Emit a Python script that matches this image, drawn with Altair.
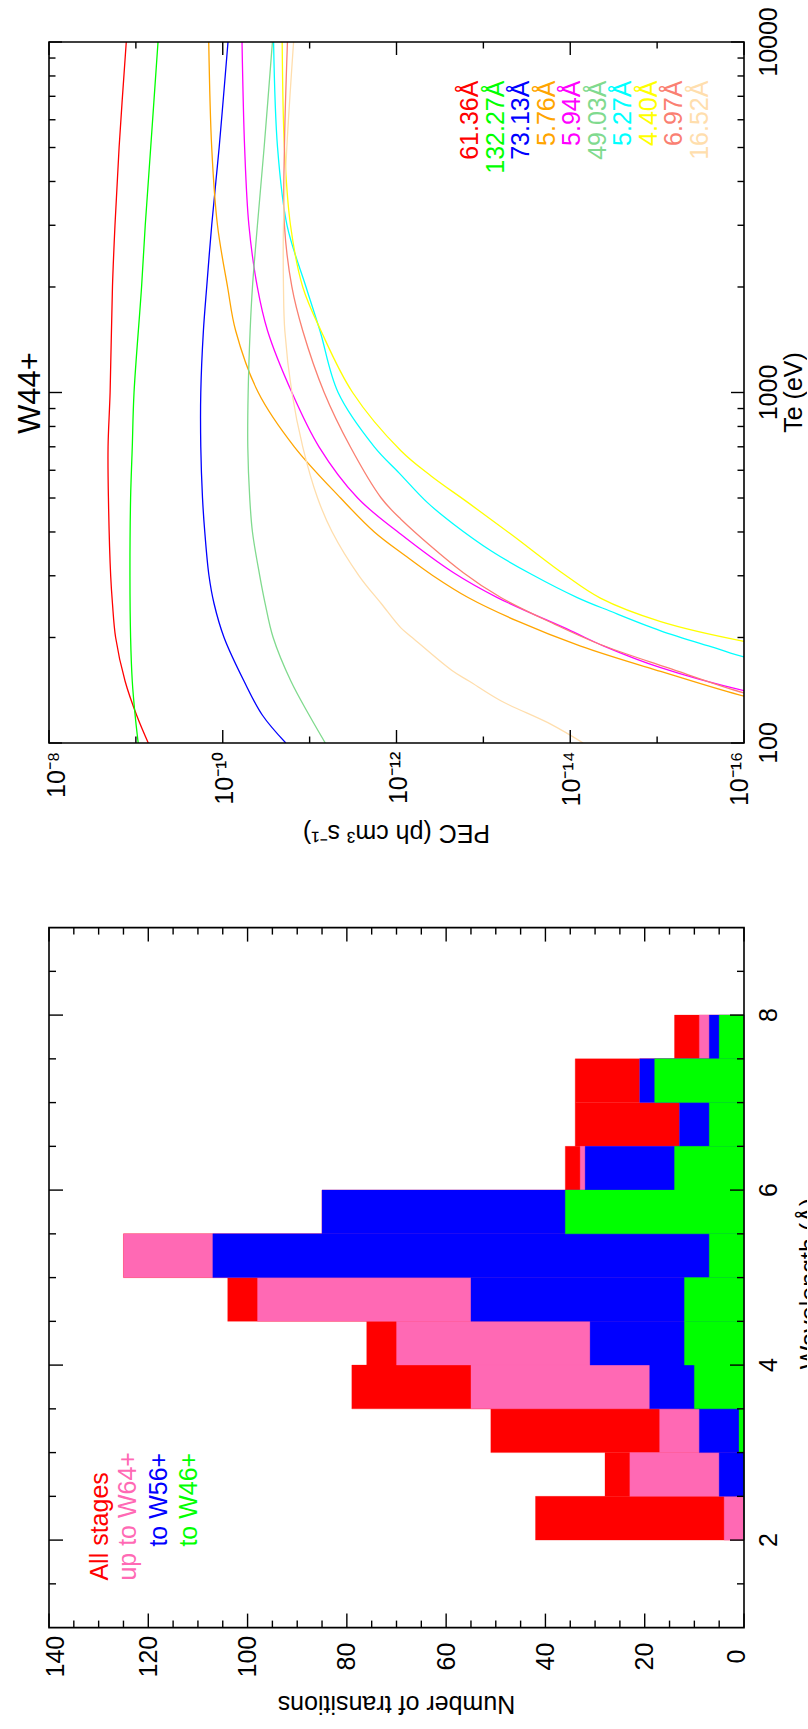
import altair as alt
import pandas as pd

FONT = "Liberation Sans"

# ---------------- upper panel: PEC vs Te for W44+ ----------------
line_labels = ["61.36Å", "132.27Å", "73.13Å", "5.76Å", "5.94Å",
               "49.03Å", "5.27Å", "4.40Å", "6.97Å", "16.52Å"]
line_colors = ["#FF0000", "#00FF00", "#0000FF", "#FFA500", "#FF00FF",
               "#80DA8E", "#00FFFF", "#FFFF00", "#FA8072", "#FFDEAD"]

te_6136 = [100, 120, 150, 200, 250, 300, 500, 700, 1000, 2000, 3000, 5000, 10000]
pec_6136 = [7.2e-10, 9.8e-10, 1.33e-9, 1.71e-9, 1.86e-9, 1.95e-9, 2.07e-9, 2.09e-9,
            1.98e-9, 1.86e-9, 1.74e-9, 1.56e-9, 1.29e-9]

te_13227 = [100, 120, 150, 200, 300, 500, 700, 1000, 2000, 3000, 5000, 10000]
pec_13227 = [9.4e-10, 1.02e-9, 1.10e-9, 1.15e-9, 1.17e-9, 1.15e-9, 1.10e-9, 1.05e-9,
             8.6e-10, 7.8e-10, 6.75e-10, 5.56e-10]

te_7313 = [100, 120, 150, 200, 250, 300, 400, 500, 700, 1000, 1500, 2000, 3000, 4000,
           5000, 7000, 10000]
pec_7313 = [1.88e-11, 3.49e-11, 5.68e-11, 9.66e-11, 1.26e-10, 1.44e-10, 1.61e-10,
            1.71e-10, 1.79e-10, 1.79e-10, 1.67e-10, 1.53e-10, 1.34e-10, 1.20e-10,
            1.10e-10, 9.8e-11, 8.7e-11]

te_576 = [130, 136, 160, 189, 223, 260, 300, 342, 400, 500, 700, 1000, 1500, 2000,
          3000, 5000, 10000]
pec_576 = [4.0e-17, 1.0e-16, 9.1e-16, 7.6e-15, 4.1e-14, 1.5e-13, 3.8e-13, 7.9e-13,
           1.8e-12, 4.4e-12, 1.5e-11, 3.9e-11, 7.1e-11, 8.8e-11, 1.15e-10, 1.34e-10,
           1.45e-10]

te_594 = [135, 141, 164, 189, 209, 260, 306, 394, 500, 700, 1000, 1500, 2000, 3000,
          5000, 10000]
pec_594 = [4.0e-17, 1.0e-16, 9.1e-16, 4.1e-15, 9.8e-15, 6.9e-14, 2.2e-13, 8.9e-13,
           2.8e-12, 7.8e-12, 1.6e-11, 3.05e-11, 4.0e-11, 5.0e-11, 5.6e-11, 6.0e-11]

te_4903 = [100, 120, 150, 200, 250, 300, 400, 500, 700, 1000, 1500, 2000, 3000, 5000,
           10000]
pec_4903 = [6.6e-12, 1.01e-11, 1.64e-11, 2.63e-11, 3.25e-11, 3.75e-11, 4.55e-11,
            4.89e-11, 5.15e-11, 5.1e-11, 4.84e-11, 4.55e-11, 3.99e-11, 3.34e-11,
            2.68e-11]

te_527 = [170, 176, 187, 209, 238, 260, 303, 353, 421, 485, 589, 700, 1000, 1500,
          2000, 3000, 5000, 10000]
pec_527 = [4.0e-17, 1.0e-16, 2.2e-16, 9.1e-16, 3.5e-15, 8.3e-15, 2.8e-14, 8.1e-14,
           2.2e-13, 4.4e-13, 9.3e-13, 1.8e-12, 4.7e-12, 7.6e-12, 1.1e-11, 1.82e-11,
           2.34e-11, 2.6e-11]

te_440 = [188, 195, 222, 259, 304, 394, 485, 578, 682, 1000, 1500, 2000, 3000, 5000,
          10000]
pec_440 = [4.0e-17, 1.0e-16, 9.1e-16, 4.5e-15, 1.2e-14, 4.8e-14, 1.5e-13, 4.0e-13,
           8.9e-13, 3.2e-12, 7.4e-12, 1.2e-11, 1.66e-11, 1.95e-11, 2.07e-11]

te_697 = [133, 139, 164, 191, 218, 260, 306, 435, 500, 700, 1000, 1500, 2000, 3000,
          5000, 10000]
pec_697 = [4.0e-17, 1.0e-16, 7.6e-16, 4.5e-15, 1.5e-14, 6.3e-14, 1.7e-13, 8.9e-13,
           1.5e-12, 3.4e-12, 6.8e-12, 1.2e-11, 1.6e-11, 1.95e-11, 1.95e-11, 1.8e-11]

te_1652 = [100, 113, 132, 150, 161, 200, 213, 250, 300, 400, 500, 700, 1000, 1500,
           2000, 3000, 5000, 10000]
pec_1652 = [7.1e-15, 1.66e-14, 6.3e-14, 1.45e-13, 2.3e-13, 6.6e-13, 8.9e-13, 1.5e-12,
            2.7e-12, 5.5e-12, 8.1e-12, 1.2e-11, 1.6e-11, 1.93e-11, 2.0e-11, 2.0e-11,
            1.83e-11, 1.53e-11]

series_te = [te_6136, te_13227, te_7313, te_576, te_594, te_4903, te_527, te_440,
             te_697, te_1652]
series_pec = [pec_6136, pec_13227, pec_7313, pec_576, pec_594, pec_4903, pec_527,
              pec_440, pec_697, pec_1652]

pec_major = [1e-8, 1e-10, 1e-12, 1e-14, 1e-16]
pec_major_text = ["10⁻⁸", "10⁻¹⁰", "10⁻¹²", "10⁻¹⁴", "10⁻¹⁶"]
pec_minor = [1e-9, 1e-11, 1e-13, 1e-15]
te_major = [100, 1000, 10000]
te_major_text = ["100", "1000", "10000"]
te_minor = [200, 300, 400, 500, 600, 700, 800, 900,
            2000, 3000, 4000, 5000, 6000, 7000, 8000, 9000]

# ---------------- lower panel: histogram of transitions ----------------
bin_edges = [2.0, 2.5, 3.0, 3.5, 4.0, 4.5, 5.0, 5.5, 6.0, 6.5, 7.0, 7.5, 8.0]
n_all = [42, 28, 51, 79, 76, 104, 125, 85, 36, 34, 34, 14]
n_w64 = [4, 23, 17, 55, 70, 98, 125, 85, 33, 13, 21, 9]
n_w56 = [0, 5, 9, 19, 31, 55, 107, 85, 32, 13, 21, 7]
n_w46 = [0, 0, 1, 10, 12, 12, 7, 36, 14, 7, 18, 5]
hist_labels = ["All stages", "up to W64+", "to W56+", "to W46+"]
hist_colors = ["#FF0000", "#FF69B4", "#0000FF", "#00FF00"]

cnt_major = [0, 20, 40, 60, 80, 100, 120, 140]
cnt_minor = [v for v in range(5, 140, 5) if v % 20 != 0]
wl_major = [2, 4, 6, 8]
wl_minor = [1.5, 2.5, 3.0, 3.5, 4.5, 5.0, 5.5, 6.5, 7.0, 7.5, 8.5]

# ---------------- layout constants ----------------
W = 695
H1 = 701
H2 = 700
one = pd.DataFrame({"a": [0]})

pec_scale = alt.Scale(type="log", domain=[1e-16, 1e-8], reverse=True, nice=False)
te_scale = alt.Scale(type="log", domain=[100, 10000], nice=False)
cnt_scale = alt.Scale(domain=[0, 140], reverse=True, nice=False, zero=False)
wl_scale = alt.Scale(domain=[1, 9], nice=False, zero=False)


def txt(s, x, y, angle, align="center", size=25, color="black"):
    return alt.Chart(one).mark_text(
        text=s, angle=angle, align=align, baseline="alphabetic", fontSize=size,
        font=FONT, color=color
    ).encode(x=alt.value(x), y=alt.value(y))


def xticks(vals, scale, length, H):
    d = pd.DataFrame({"v": vals})
    xe = alt.X("v:Q", scale=scale, axis=None)
    b = alt.Chart(d).mark_rule(color="black", strokeWidth=1.4).encode(
        x=xe, y=alt.value(H), y2=alt.value(H - length))
    t = alt.Chart(d).mark_rule(color="black", strokeWidth=1.4).encode(
        x=xe, y=alt.value(0), y2=alt.value(length))
    return [b, t]


def yticks(vals, scale, length, Wd):
    d = pd.DataFrame({"v": vals})
    ye = alt.Y("v:Q", scale=scale, axis=None)
    l = alt.Chart(d).mark_rule(color="black", strokeWidth=1.4).encode(
        y=ye, x=alt.value(0), x2=alt.value(length))
    r = alt.Chart(d).mark_rule(color="black", strokeWidth=1.4).encode(
        y=ye, x=alt.value(Wd), x2=alt.value(Wd - length))
    return [l, r]


def xlabels(vals, texts, scale, ypos, align, dy):
    d = pd.DataFrame({"v": vals, "t": texts})
    return alt.Chart(d).mark_text(
        angle=270, align=align, baseline="alphabetic", dy=dy, fontSize=25,
        font=FONT, color="black"
    ).encode(x=alt.X("v:Q", scale=scale, axis=None), y=alt.value(ypos), text="t:N")


def ylabels(vals, texts, scale, xpos):
    d = pd.DataFrame({"v": vals, "t": texts})
    return alt.Chart(d).mark_text(
        angle=270, align="center", baseline="alphabetic", fontSize=25,
        font=FONT, color="black"
    ).encode(y=alt.Y("v:Q", scale=scale, axis=None), x=alt.value(xpos), text="t:N")


def frame(Wd, H):
    return alt.Chart(one).mark_rect(filled=False, stroke="black", strokeWidth=1.6).encode(
        x=alt.value(0), x2=alt.value(Wd), y=alt.value(0), y2=alt.value(H))


# ---------------- panel 1 ----------------
rows = []
for lab, tes, pecs in zip(line_labels, series_te, series_pec):
    for t, p in zip(tes, pecs):
        rows.append({"line": lab, "te": t, "pec": p})
df_lines = pd.DataFrame(rows)

lines = alt.Chart(df_lines).mark_line(
    strokeWidth=1.3, clip=True, interpolate="catmull-rom"
).encode(
    x=alt.X("pec:Q", scale=pec_scale, axis=None),
    y=alt.Y("te:Q", scale=te_scale, axis=None),
    color=alt.Color("line:N", scale=alt.Scale(domain=line_labels, range=line_colors),
                    legend=None),
    detail="line:N",
    order=alt.Order("te:Q"),
)

anchor = alt.Chart(one).mark_rect(opacity=0).encode(
    x=alt.value(-48.3), x2=alt.value(0), y=alt.value(-41.4), y2=alt.value(0))

p1_layers = [anchor, lines]
p1_layers += xticks(pec_major, pec_scale, 13, H1)
p1_layers += xticks(pec_minor, pec_scale, 6.5, H1)
p1_layers += yticks(te_major, te_scale, 13, W)
p1_layers += yticks(te_minor, te_scale, 6.5, W)
p1_layers += [
    xlabels(pec_major[:1], pec_major_text[:1], pec_scale, H1 + 8.6, "right", 15.5),
    xlabels(pec_major[1:-1], pec_major_text[1:-1], pec_scale, H1 + 8.6, "right", 10),
    xlabels(pec_major[-1:], pec_major_text[-1:], pec_scale, H1 + 8.6, "right", 4),
    ylabels(te_major, te_major_text, te_scale, 727.7),
    txt("W44+", -9, 351, 270, size=31),
    txt("Te (eV)", 752.7, 350.5, 270),
    txt("PEC (ph cm³ s⁻¹)", 347.5, 782.6, 180),
]
for i, (lab, col) in enumerate(zip(line_labels, line_colors)):
    p1_layers.append(txt(lab, 429 + i * 25.5, 38.6, 270, align="right", color=col))
p1_layers.append(frame(W, H1))

panel1 = alt.layer(*p1_layers).properties(width=W, height=H1)

# ---------------- panel 2 ----------------
p2_layers = []
for counts, col in zip([n_all, n_w64, n_w56, n_w46], hist_colors):
    d = pd.DataFrame({"start": bin_edges[:-1], "end": bin_edges[1:], "n": counts})
    p2_layers.append(
        alt.Chart(d).mark_rect(color=col, stroke=col, strokeWidth=0.3).encode(
            y=alt.Y("start:Q", scale=wl_scale, axis=None),
            y2="end:Q",
            x=alt.X("n:Q", scale=cnt_scale, axis=None),
            x2=alt.datum(0),
        )
    )
p2_layers += xticks(cnt_major, cnt_scale, 14, H2)
p2_layers += xticks(cnt_minor, cnt_scale, 7, H2)
p2_layers += yticks(wl_major, wl_scale, 14, W)
p2_layers += yticks(wl_minor, wl_scale, 7, W)
cnt_text = [str(v) for v in cnt_major]
p2_layers += [
    xlabels(cnt_major[-1:], cnt_text[-1:], cnt_scale, 729, "center", 14.9),
    xlabels(cnt_major[1:-1], cnt_text[1:-1], cnt_scale, 729, "center", 8.4),
    xlabels(cnt_major[:1], cnt_text[:1], cnt_scale, 729, "center", 1.4),
    ylabels(wl_major, [str(v) for v in wl_major], wl_scale, 727.7),
    txt("Number of transitions", 347.5, 768, 180),
    txt("Wavelength (Å)", 768.7, 356, 270),
]
hist_leg_pos = [(58.7, 653), (86.7, 653), (117.7, 619), (147.7, 619)]
for lab, col, (lx, ly) in zip(hist_labels, hist_colors, hist_leg_pos):
    p2_layers.append(txt(lab, lx, ly, 270, align="left", color=col))
p2_layers.append(frame(W, H2))

panel2 = alt.layer(*p2_layers).properties(width=W, height=H2)

chart = alt.vconcat(panel1, panel2, spacing=184.6, bounds="flush").configure_view(
    stroke=None
).properties(
    padding={"left": 0, "top": 0, "right": -16, "bottom": 10},
    background="white",
)

chart.save("out.html", embed_options={"renderer": "svg", "actions": False})
